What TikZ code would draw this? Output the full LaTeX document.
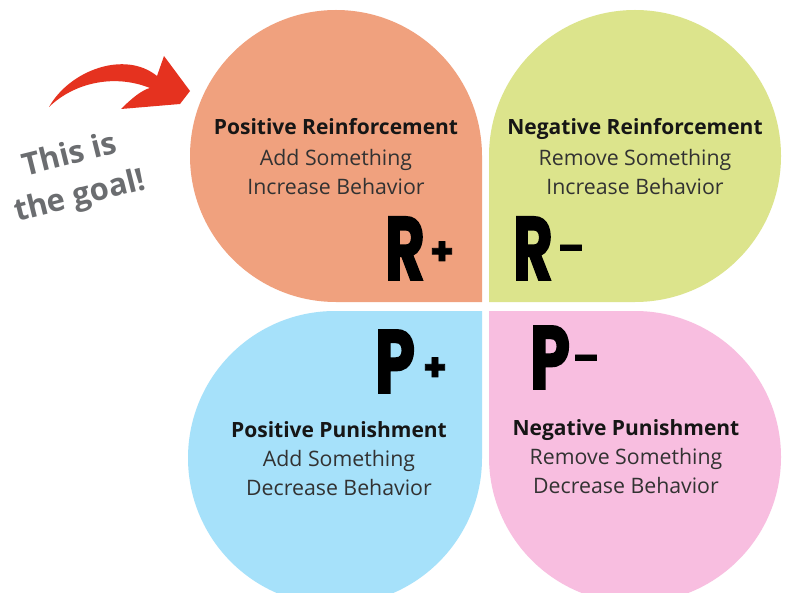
\documentclass[tikz,border=0pt]{standalone}
\usepackage{fontspec}
\usepackage{graphicx}
\setmainfont{Open Sans}
\newfontfamily\brushfont[FakeBold=2]{Poppins}

\definecolor{petalA}{HTML}{F0A17E}
\definecolor{petalB}{HTML}{DCE48C}
\definecolor{petalC}{HTML}{A6E1FA}
\definecolor{petalD}{HTML}{F8BEE0}
\definecolor{arrowred}{HTML}{E5321F}
\definecolor{notegray}{HTML}{6B6D70}
\definecolor{ink}{HTML}{161616}

\tikzset{
  title/.style={anchor=base, inner sep=0pt, text=ink,
    font=\fontsize{21}{25}\selectfont\bfseries},
  desc/.style={anchor=base, inner sep=0pt, text=ink!88,
    font=\fontsize{21.3}{25}\selectfont},
  bigletter/.style={inner sep=0pt, text=black,
    font=\brushfont\bfseries\fontsize{90}{90}\selectfont},
  sign/.style={inner sep=0pt, text=black,
    font=\brushfont\bfseries\fontsize{38}{38}\selectfont},
  note/.style={inner sep=0pt, text=notegray, rotate=14, align=center,
    font=\fontsize{31}{42}\selectfont\bfseries},
}

\begin{document}
\begin{tikzpicture}[x=1pt, y=1pt]
  \useasboundingbox (0,0) rectangle (786,-593);
  \clip (0,0) rectangle (786,-593);
  \fill[white] (0,0) rectangle (786,-593);

  % four teardrop petals, each a circle joined to a square corner
  \fill[petalA] (482,-157) -- (482,-302) -- (336,-302)
    arc[start angle=270, end angle=0, radius=146] -- cycle;
  \fill[petalB] (489,-156) -- (489,-302) -- (635,-302)
    arc[start angle=270, end angle=540, radius=146] -- cycle;
  \fill[petalC] (482,-458) -- (482,-311) -- (335,-311)
    arc[start angle=90, end angle=360, radius=147] -- cycle;
  \fill[petalD] (489,-457) -- (489,-311) -- (635,-311)
    arc[start angle=90, end angle=-180, radius=146] -- cycle;

  % labels
  \node[title] (prT) at (336,-135)   {Positive Reinforcement};
  \node[desc]  (prA) at (336,-165.5) {Add Something};
  \node[desc]  (prB) at (336,-194.5) {Increase Behavior};

  \node[title] (nrT) at (635,-135)   {Negative Reinforcement};
  \node[desc]  (nrA) at (635,-165.5) {Remove Something};
  \node[desc]  (nrB) at (635,-194.5) {Increase Behavior};

  \node[title] (ppT) at (339,-437.5) {Positive Punishment};
  \node[desc]  (ppA) at (339,-466.5) {Add Something};
  \node[desc]  (ppB) at (339,-495.5) {Decrease Behavior};

  \node[title] (npT) at (626,-435)   {Negative Punishment};
  \node[desc]  (npA) at (626,-464.5) {Remove Something};
  \node[desc]  (npB) at (626,-493.5) {Decrease Behavior};

  % brush-style symbols
  \node[bigletter] (rp)  at (405,-248.5) {\scalebox{0.68}[1]{R}};
  \node[sign]      (rpS) at (442,-253)   {+};
  \node[bigletter] (rm)  at (533,-248.5) {\scalebox{0.68}[1]{R}};
  \node[sign]      (rmS) at (571,-253)   {–};
  \node[bigletter] (pp)  at (395,-361.5) {\scalebox{0.72}[1]{P}};
  \node[sign]      (ppS) at (435,-369)   {+};
  \node[bigletter] (pm)  at (550,-357.5) {\scalebox{0.72}[1]{P}};
  \node[sign]      (pmS) at (586,-363)   {–};

  % note and its curved arrow
  \node[note] (note) at (75,-177) {This is\\the goal!};

  \fill[arrowred] (49,-107)
      .. controls (70,-70) and (125,-50) .. (157,-76)
      -- (164,-56) -- (190,-91) -- (180,-104) -- (121,-109)
      .. controls (132,-98) and (142,-90) .. (150,-88)
      .. controls (115,-74) and (75,-82) .. (49,-107) -- cycle;
\end{tikzpicture}
\end{document}
